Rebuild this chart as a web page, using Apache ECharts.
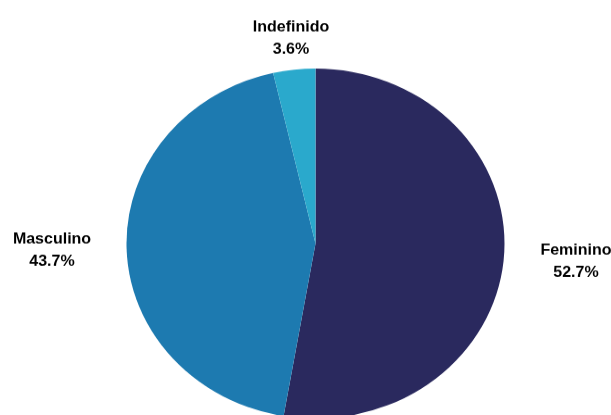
<!DOCTYPE html>
<html>
<head>
<meta charset="utf-8">
<script src="https://cdn.jsdelivr.net/npm/echarts@6/dist/echarts.min.js"></script>
<style>
  html, body { margin: 0; padding: 0; background: #ffffff; overflow: hidden; }
  #wrap { width: 611px; height: 415px; overflow: hidden; position: relative; }
  #chart { width: 611px; height: 448px; transform: scale(1, 0.926); transform-origin: 0 0; }
</style>
</head>
<body>
<div id="wrap"><div id="chart"></div></div>
<script>
var categories = ['Feminino', 'Masculino', 'Indefinido'];
var values = [52.7, 43.7, 3.6];
var colors = ['#2a295e', '#1d7ab0', '#2aa9cc'];
var labelPos = [[576, 283], [52, 271], [291, 42]];

var chart = echarts.init(document.getElementById('chart'), null, { renderer: 'canvas' });
chart.setOption({
  backgroundColor: '#ffffff',
  animation: false,
  series: [{
    type: 'pie',
    center: [315.5, 263],
    radius: [0, 189],
    startAngle: 90,
    clockwise: true,
    avoidLabelOverlap: false,
    data: categories.map(function (c, i) {
      return { name: c, value: values[i], itemStyle: { color: colors[i] } };
    }),
    itemStyle: { borderWidth: 0 },
    label: {
      show: true,
      position: 'outside',
      formatter: function (p) { return p.name + '\n' + p.value.toFixed(1) + '%'; },
      fontFamily: 'Liberation Sans, Arial, sans-serif',
      fontWeight: 'bold',
      fontSize: 16,
      lineHeight: 24,
      color: '#000000',
      align: 'center'
    },
    labelLine: { show: false },
    labelLayout: function (params) {
      var p = labelPos[params.dataIndex];
      return { x: p[0], y: p[1], align: 'center', verticalAlign: 'middle' };
    },
    emphasis: { disabled: true }
  }]
});
</script>
</body>
</html>
